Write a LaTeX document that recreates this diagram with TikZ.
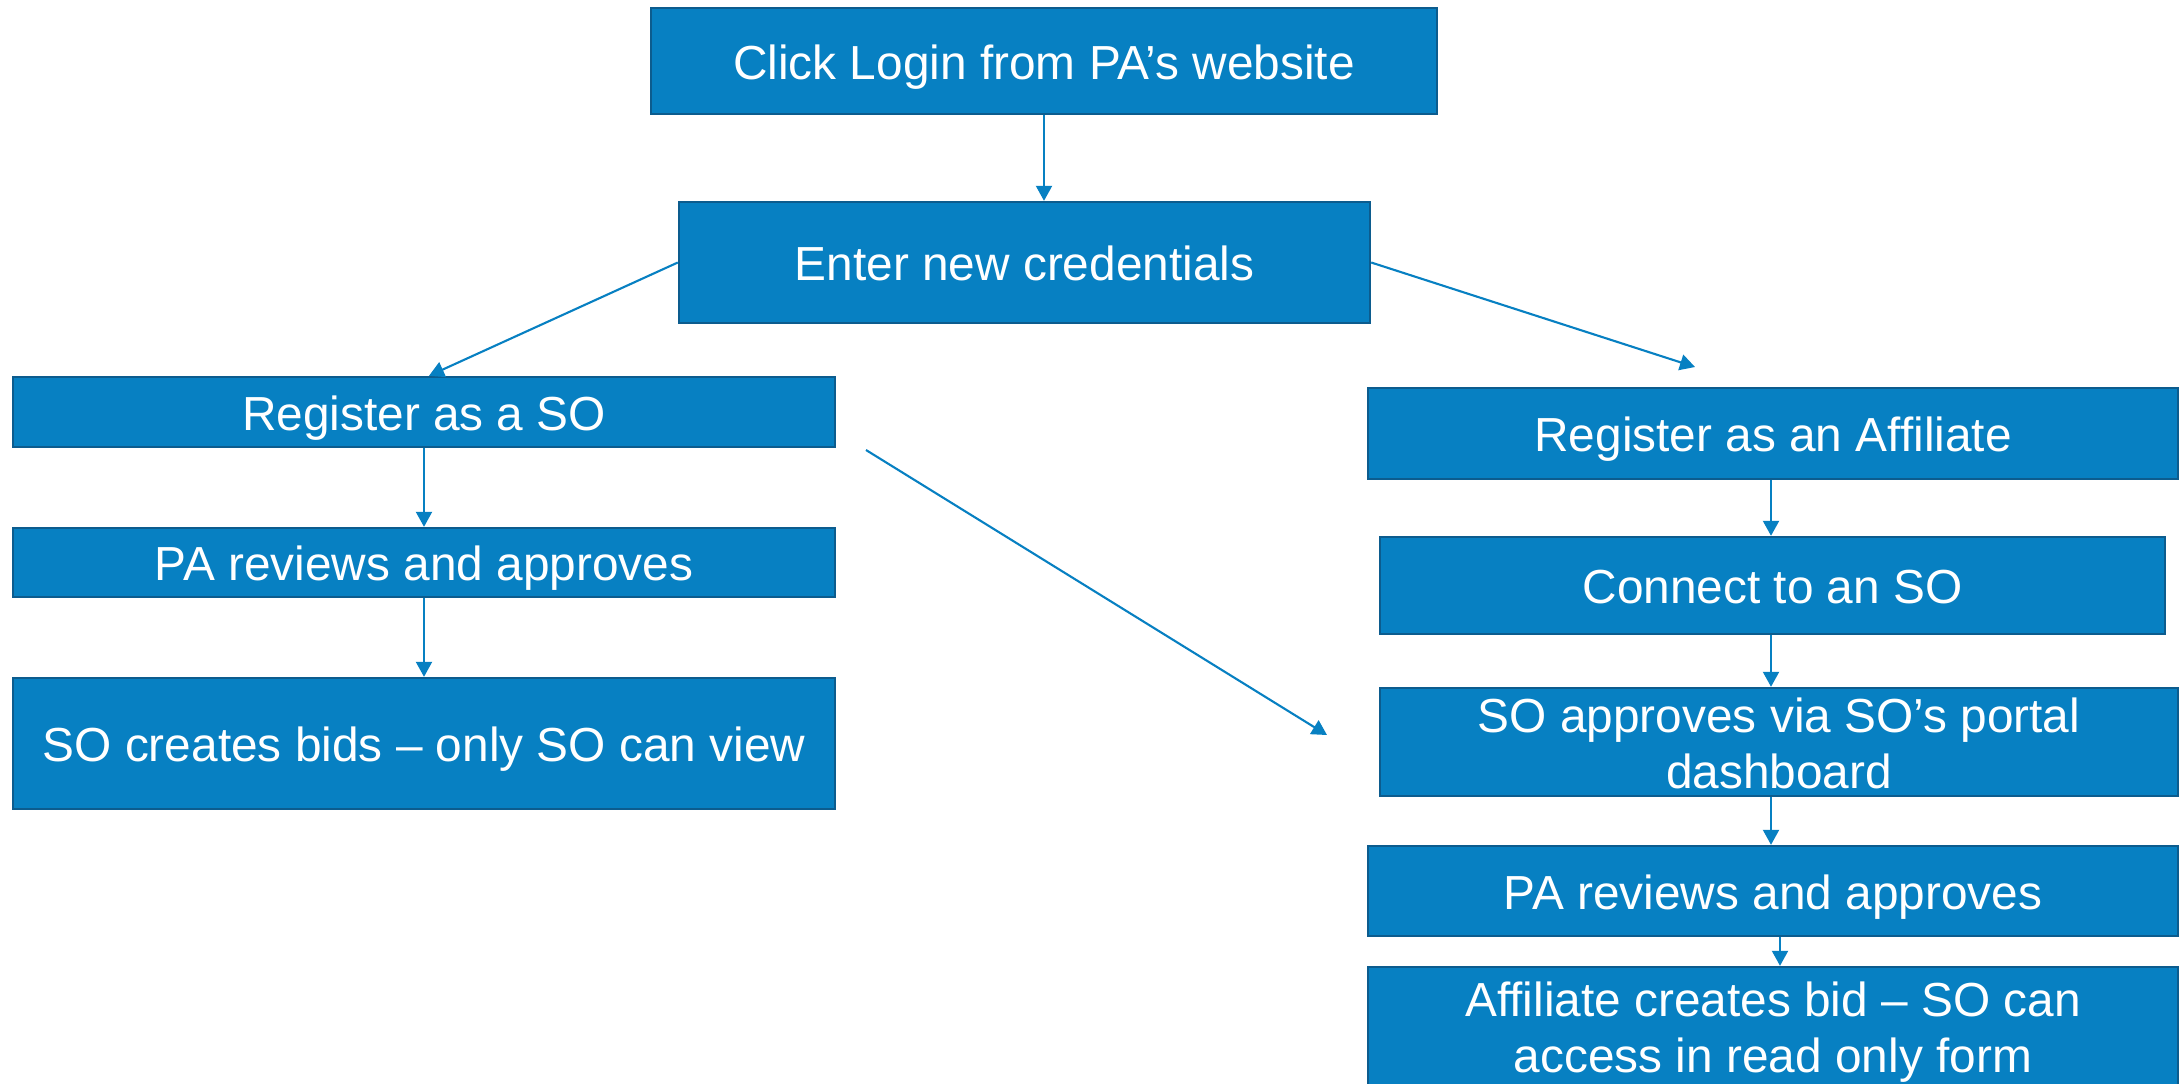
\documentclass[tikz,border=0pt]{standalone}
\usepackage{fontspec}
\setmainfont{Liberation Sans}
\usetikzlibrary{arrows.meta,calc}
\definecolor{boxc}{RGB}{7,128,194}
\definecolor{bordc}{RGB}{12,92,142}
\definecolor{linec}{RGB}{7,128,194}
\tikzset{
  box/.style={draw=bordc, fill=boxc, line width=1.2pt, text=white,
    font=\fontsize{23.9}{28}\selectfont, align=center, inner sep=0pt,
    text height=18.2pt, text depth=0pt},
  boxtwo/.style={box, text height=46.2pt, text depth=0pt},
  conn/.style={draw=linec, line width=1.05pt, -{Triangle[length=7.5pt,width=8pt]}},
}
\begin{document}
\begin{tikzpicture}[x=0.5pt,y=-0.5pt]
\clip (0,0) rectangle (2183,1083);
\fill[white] (0,0) rectangle (2183,1083);
\node[box, minimum width=393pt, minimum height=53pt] (login) at (1044,61) {Click Login from PA’s website};
\node[box, minimum width=345.5pt, minimum height=60.5pt] (creds) at (1024.5,262.5) {Enter new credentials};
\node[box, minimum width=411pt, minimum height=35pt] (regSO) at (424,412) {Register as a SO};
\node[box, minimum width=411pt, minimum height=34.5pt] (paL) at (424,562.5) {PA reviews and approves};
\node[box, minimum width=411pt, minimum height=65.5pt] (bidsL) at (424,743.5) {SO creates bids – only SO can view};
\node[box, minimum width=405pt, minimum height=45.5pt] (regAff) at (1773,433.5) {Register as an Affiliate};
\node[box, minimum width=392.5pt, minimum height=48.5pt] (connect) at (1772.5,585.5) {Connect to an SO};
\node[boxtwo, minimum width=399pt, minimum height=54pt] (soApp) at (1779,742) {SO approves via SO’s portal\\dashboard};
\node[box, minimum width=405pt, minimum height=45pt] (paR) at (1773,891) {PA reviews and approves};
\node[boxtwo, minimum width=405pt, minimum height=59pt] (bidR) at (1773,1026) {Affiliate creates bid – SO can\\access in read only form};

\coordinate (rEnd) at (1695,367);
\coordinate (xStart) at (866,450);
\coordinate (xEnd) at (1327,735);
\coordinate (soTip) at ($(regSO.north)+(5,0)$);
\coordinate (a1s) at (regAff.south -| 1771,0);
\coordinate (a1e) at (connect.north -| 1771,0);
\coordinate (a2s) at (connect.south -| 1771,0);
\coordinate (a2e) at (soApp.north -| 1771,0);
\coordinate (a3s) at (soApp.south -| 1771,0);
\coordinate (a3e) at (paR.north -| 1771,0);
\coordinate (a4s) at (paR.south -| 1780,0);
\coordinate (a4e) at (bidR.north -| 1780,0);

\draw[conn] (login.south) -- (login.south |- creds.north);
\draw[conn] (creds.west) -- (soTip);
\draw[conn] (creds.east) -- (rEnd);
\draw[conn] (xStart) -- (xEnd);
\draw[conn] (regSO.south) -- (paL.north);
\draw[conn] (paL.south) -- (bidsL.north);
\draw[conn] (a1s) -- (a1e);
\draw[conn] (a2s) -- (a2e);
\draw[conn] (a3s) -- (a3e);
\draw[conn] (a4s) -- (a4e);
\end{tikzpicture}
\end{document}
